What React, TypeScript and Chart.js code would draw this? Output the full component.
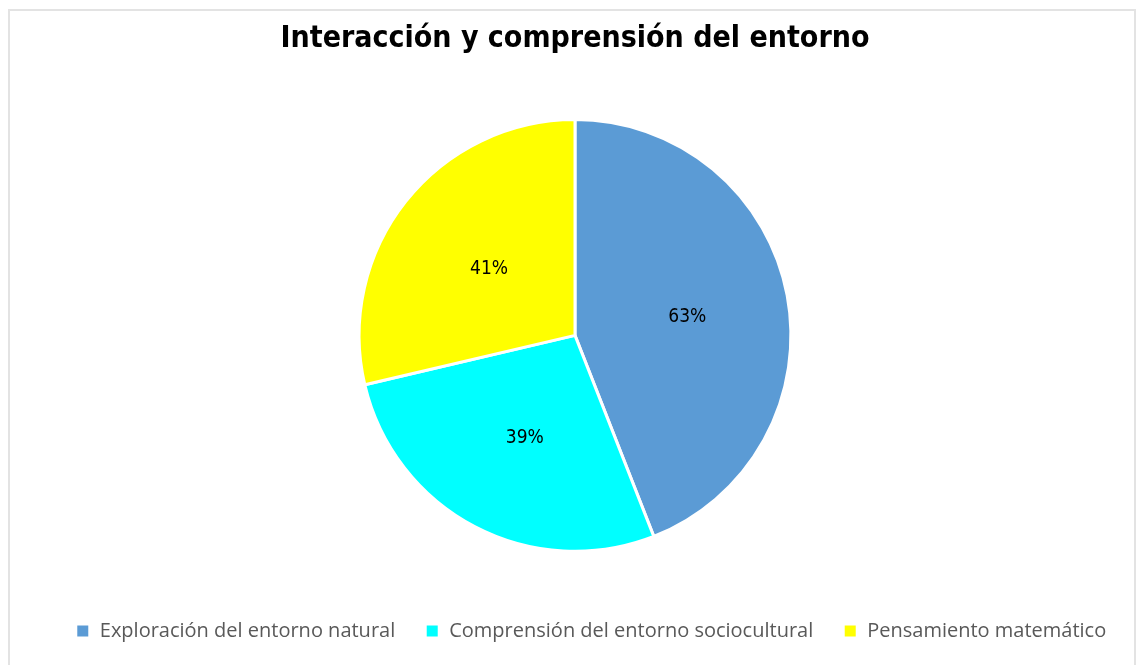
import React, { useEffect, useRef } from "react";
import { Chart, registerables } from "chart.js";

Chart.register(...registerables);

const chartTitle = "Interacción y comprensión del entorno";
const categories = [
  "Exploración del entorno natural",
  "Comprensión del entorno sociocultural",
  "Pensamiento matemático",
];
const values = [63, 39, 41];
const colors = ["#5B9BD5", "#00FFFF", "#FFFF00"];

const FONT = "'Liberation Sans Narrow', 'DejaVu Sans Condensed', 'Open Sans', sans-serif";
const LEGEND_FONT = "'Open Sans', sans-serif";

const labelPlugin = {
  id: "sliceLabels",
  afterLayout(chart: any) {
    if (chart.legend) {
      chart.legend.left += 16;
      chart.legend.right += 16;
    }
  },
  afterDatasetsDraw(chart: any) {
    const ctx = chart.ctx;
    const meta = chart.getDatasetMeta(0);
    ctx.save();
    ctx.font = `19px ${FONT}`;
    ctx.fillStyle = "#000000";
    ctx.textAlign = "center";
    ctx.textBaseline = "middle";
    meta.data.forEach((arc: any, i: number) => {
      const p = arc.getProps(["x", "y", "startAngle", "endAngle", "outerRadius"], true);
      const mid = (p.startAngle + p.endAngle) / 2;
      const r = p.outerRadius * 0.52;
      ctx.fillText(`${values[i]}%`, p.x + Math.cos(mid) * r + 2, p.y + Math.sin(mid) * r + 3);
    });
    ctx.restore();
  },
};

export default function App() {
  const ref = useRef<HTMLCanvasElement | null>(null);
  useEffect(() => {
    if (!ref.current) return;
    const chart = new Chart(ref.current, {
      type: "pie",
      data: {
        labels: categories,
        datasets: [
          {
            data: values,
            backgroundColor: colors,
            borderColor: "#ffffff",
            borderWidth: 3,
          },
        ],
      },
      options: {
        animation: false,
        responsive: false,
        maintainAspectRatio: false,
        layout: { padding: { left: 11, right: 0, top: 0, bottom: 14 } },
        plugins: {
          title: {
            display: true,
            text: chartTitle,
            color: "#000000",
            font: { family: FONT, size: 30, weight: "bold" },
            padding: { top: 21, bottom: 61 },
          },
          subtitle: {
            display: true,
            text: " ",
            position: "bottom",
            weight: 500,
            font: { size: 1 },
            padding: { top: 0, bottom: 37 },
          } as any,
          legend: {
            display: true,
            position: "bottom",
            labels: {
              boxWidth: 14,
              boxHeight: 14,
              padding: 30,
              color: "#595959",
              font: { family: LEGEND_FONT, size: 20 },
            },
          },
          tooltip: { enabled: false },
        },
      },
      plugins: [labelPlugin],
    });
    return () => chart.destroy();
  }, []);
  return (
    <div style={{ position: "fixed", left: 0, top: 0, width: 1139, height: 665, background: "#fff", overflow: "hidden" }}>
      <div
        style={{
          position: "absolute",
          left: 8,
          top: 9,
          width: 1128,
          height: 700,
          border: "2px solid #e3e3e3",
          boxSizing: "border-box",
        }}
      />
      <canvas ref={ref} width={1139} height={665} style={{ position: "absolute", left: 0, top: 0 }} />
    </div>
  );
}
